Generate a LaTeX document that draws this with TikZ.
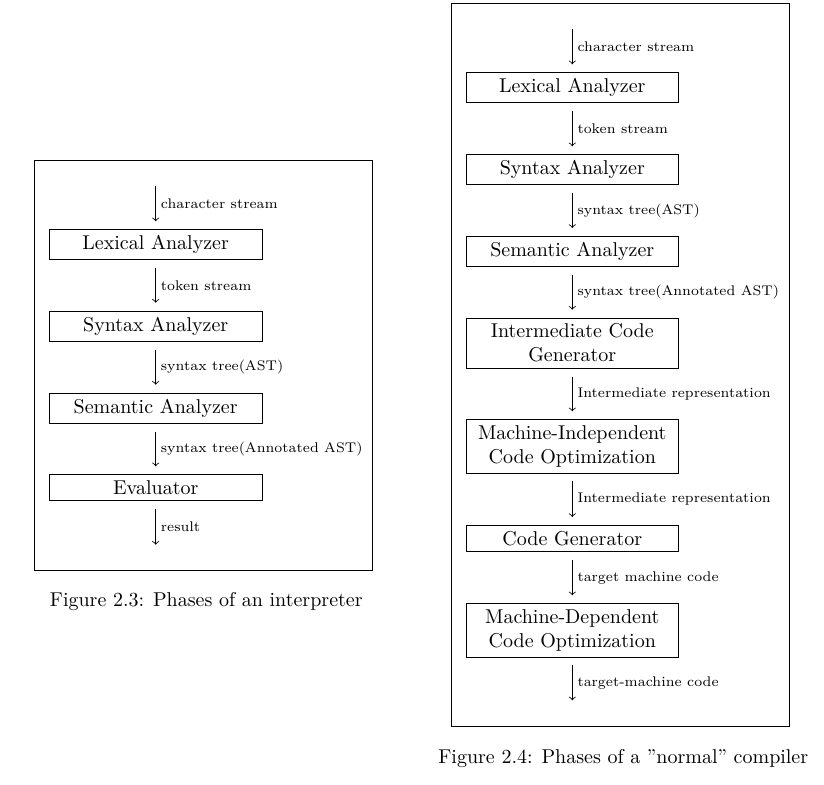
\documentclass[tikz,border=0pt]{standalone}
\begin{document}
\begin{tikzpicture}[x=0.5pt,y=-0.5pt,
  phase/.style={draw, rectangle, text width=3.5cm, align=center, inner ysep=2.9pt, anchor=north, font=\normalsize},
  flow/.style={->, shorten >=4pt, shorten <=4pt},
  lbl/.style={right, font=\scriptsize, midway, inner xsep=2.4pt},
  frame/.style={draw, line width=0.4pt}]
\useasboundingbox (0,0) rectangle (824,785);
% ---------- left: interpreter ----------
\node[phase] (L1) at (155.7,229.3) {Lexical Analyzer};
\node[phase] (L2) at (155.7,310.7) {Syntax Analyzer};
\node[phase] (L3) at (155.7,392.7) {Semantic Analyzer};
\node[phase] (L4) at (155.7,474.3) {Evaluator};
\coordinate (L0) at (155.7,178.3);
\coordinate (L5) at (155.7,552.7);
\draw[flow] (L0) -- (L1.north) node[lbl] {character stream};
\draw[flow] (L1.south) -- (L2.north) node[lbl] {token stream};
\draw[flow] (L2.south) -- (L3.north) node[lbl] {syntax tree(AST)};
\draw[flow] (L3.south) -- (L4.north) node[lbl] {syntax tree(Annotated AST)};
\draw[flow] (L4.south) -- (L5) node[lbl] {result};
\coordinate (LF1) at (34,160);
\coordinate (LF2) at (372,570);
\draw[frame] (LF1) rectangle (LF2);
\node[anchor=base] (cap1) at (206.3,606) {Figure 2.3: Phases of an interpreter};
% ---------- right: compiler ----------
\node[phase] (R1) at (572.3,72.3) {Lexical Analyzer};
\node[phase] (R2) at (572.3,154.3) {Syntax Analyzer};
\node[phase] (R3) at (572.3,236) {Semantic Analyzer};
\node[phase] (R4) at (572.3,317.7) {Intermediate Code\\Generator};
\node[phase] (R5) at (572.3,419.3) {Machine-Independent\\Code Optimization};
\node[phase] (R6) at (572.3,525) {Code Generator};
\node[phase] (R7) at (572.3,603.3) {Machine-Dependent\\Code Optimization};
\coordinate (R0) at (572.3,21.3);
\coordinate (R8) at (572.3,708.3);
\draw[flow] (R0) -- (R1.north) node[lbl] {character stream};
\draw[flow] (R1.south) -- (R2.north) node[lbl] {token stream};
\draw[flow] (R2.south) -- (R3.north) node[lbl] {syntax tree(AST)};
\draw[flow] (R3.south) -- (R4.north) node[lbl] {syntax tree(Annotated AST)};
\draw[flow] (R4.south) -- (R5.north) node[lbl] {Intermediate representation};
\draw[flow] (R5.south) -- (R6.north) node[lbl] {Intermediate representation};
\draw[flow] (R6.south) -- (R7.north) node[lbl] {target machine code};
\draw[flow] (R7.south) -- (R8) node[lbl] {target-machine code};
\coordinate (RF1) at (451,3.3);
\coordinate (RF2) at (789,726.7);
\draw[frame] (RF1) rectangle (RF2);
\node[anchor=base] (cap2) at (623.3,763) {Figure 2.4: Phases of a ''normal'' compiler};
\end{tikzpicture}
\end{document}
